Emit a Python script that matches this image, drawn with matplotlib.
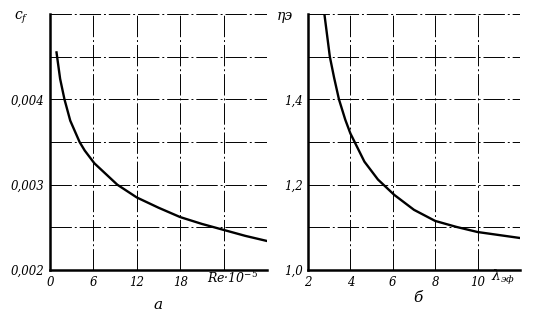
import matplotlib
matplotlib.use('Agg')
import matplotlib.pyplot as plt

# panel a: friction coefficient vs Reynolds number (Re*10^-5)
re_vals = [0.9, 1.4, 2.0, 2.8, 4.09, 4.8, 6.14, 9.3, 12, 15, 18, 21, 24, 27, 30]
cf_vals = [0.00455, 0.00424, 0.0040, 0.00375, 0.0035, 0.0034, 0.00325, 0.0030,
           0.00285, 0.00273, 0.00262, 0.00254, 0.00247, 0.0024, 0.00234]

# panel b: eta vs lambda_ef
lam_vals = [2.76, 3.03, 3.23, 3.46, 3.76, 4.0, 4.66, 5.3, 6.07, 7.0, 8.0, 9.0, 10.0, 11.0, 12.0]
eta_vals = [1.605, 1.5, 1.451, 1.4, 1.352, 1.32, 1.254, 1.212, 1.176, 1.141, 1.115, 1.101,
            1.089, 1.082, 1.075]

a_xticks = [0, 6, 12, 18, 24, 30]
a_xlabels = ['0', '6', '12', '18', '', '']
a_yticks = [0.002, 0.0025, 0.003, 0.0035, 0.004, 0.0045, 0.005]
a_ylabels = ['0,002', '', '0,003', '', '0,004', '', '']

b_xticks = [2, 4, 6, 8, 10, 12]
b_xlabels = ['2', '4', '6', '8', '10', '']
b_yticks = [1.0, 1.1, 1.2, 1.3, 1.4, 1.5, 1.6]
b_ylabels = ['1,0', '', '1,2', '', '1,4', '', '']

plt.rcParams['font.family'] = ['DejaVu Serif']
plt.rcParams['mathtext.fontset'] = 'dejavuserif'

fig = plt.figure(figsize=(5.4, 3.21), dpi=100)
ax1 = fig.add_axes([50/540, 1-270/321, 217/540, 256/321])
ax2 = fig.add_axes([308/540, 1-270/321, 212/540, 256/321])


def style(ax, xt, xl, yt, yl):
    ax.set_xticks(xt)
    ax.set_xticklabels(xl, style='italic', fontsize=8.5)
    ax.set_yticks(yt)
    ax.set_yticklabels(yl, style='italic', fontsize=8.5)
    ax.set_xlim(xt[0], xt[-1])
    ax.set_ylim(yt[0], yt[-1])
    ax.grid(True, color='black', linewidth=0.7, linestyle=(0, (22, 3, 2, 3)))
    ax.tick_params(length=0, pad=4)
    for s in ['top', 'right']:
        ax.spines[s].set_visible(False)
    for s in ['left', 'bottom']:
        ax.spines[s].set_linewidth(1.8)


style(ax1, a_xticks, a_xlabels, a_yticks, a_ylabels)
style(ax2, b_xticks, b_xlabels, b_yticks, b_ylabels)

ax1.plot(re_vals, cf_vals, color='black', lw=1.7)
ax2.plot(lam_vals, eta_vals, color='black', lw=1.7)

ax1.text(-4, 0.00495, '$c_f$', fontsize=10, ha='center', va='center')
ax1.text(25.3, 0.00191, 'Re·10$^{-5}$', fontsize=9, style='italic', ha='center', va='center')
ax1.text(15, 0.00159, 'а', fontsize=11, style='italic', ha='center', va='center')

ax2.text(0.9, 1.595, 'ηэ', fontsize=10, style='italic', ha='center', va='center')
ax2.text(11.2, 0.982, 'λ$_{эф}$', fontsize=10, style='italic', ha='center', va='center')
ax2.text(7.2, 0.935, 'б', fontsize=11, style='italic', ha='center', va='center')

fig.savefig('out.png', dpi=100)
